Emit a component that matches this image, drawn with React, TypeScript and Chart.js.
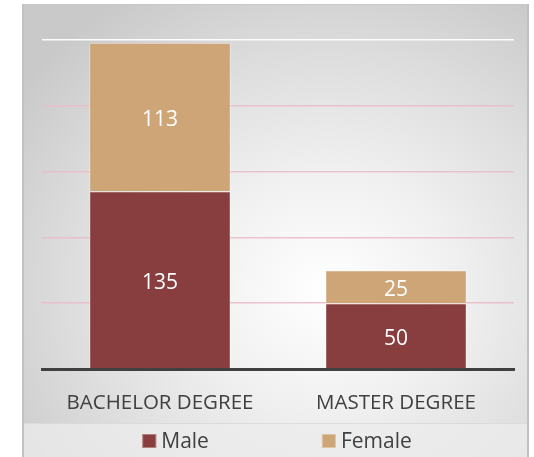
import React, { useEffect, useRef } from "react";
import { Chart, registerables } from "chart.js";

Chart.register(...registerables);

const categories = ["BACHELOR DEGREE", "MASTER DEGREE"];
const seriesNames = ["Male", "Female"];
const maleValues = [135, 50];
const femaleValues = [113, 25];
const yTicks = [0, 50, 100, 150, 200, 250];

const MALE_COLOR = "#883e3e";
const FEMALE_COLOR = "#cda576";
const FONT = "'Open Sans', 'Noto Sans', sans-serif";

const valueLabels = {
  id: "valueLabels",
  afterDatasetsDraw(chart: any) {
    const ctx = chart.ctx;
    ctx.save();
    ctx.fillStyle = "#ffffff";
    ctx.font = `21px ${FONT}`;
    ctx.textAlign = "center";
    ctx.textBaseline = "middle";
    chart.data.datasets.forEach((ds: any, di: number) => {
      const meta = chart.getDatasetMeta(di);
      meta.data.forEach((el: any, i: number) => {
        const v = ds.data[i];
        const y = (el.y + el.base) / 2;
        ctx.fillText(String(v), el.x, y + 3);
      });
    });
    ctx.restore();
  },
};

const customLegend = {
  id: "customLegend",
  afterDraw(chart: any) {
    const ctx = chart.ctx;
    ctx.save();
    ctx.font = `21px ${FONT}`;
    ctx.textBaseline = "middle";
    const box = 14;
    const gapText = 5;
    const gapItems = 113;
    const items = chart.data.datasets.map((ds: any) => ({
      label: ds.label,
      color: ds.backgroundColor,
      w: box + gapText + ctx.measureText(ds.label).width,
    }));
    const total =
      items.reduce((s: number, it: any) => s + it.w, 0) + gapItems * (items.length - 1);
    const area = chart.chartArea;
    let x = (area.left + area.right) / 2 - total / 2 - 1;
    const y = 441;
    items.forEach((it: any) => {
      ctx.fillStyle = it.color;
      ctx.fillRect(x, y - box / 2, box, box);
      ctx.strokeStyle = "rgba(255,255,255,0.35)";
      ctx.lineWidth = 1;
      ctx.strokeRect(x + 0.5, y - box / 2 + 0.5, box - 1, box - 1);
      ctx.fillStyle = "#404040";
      ctx.fillText(it.label, x + box + gapText, y + 1);
      x += it.w + gapItems;
    });
    ctx.restore();
  },
};

export default function App() {
  const canvasRef = useRef<HTMLCanvasElement | null>(null);

  useEffect(() => {
    if (!canvasRef.current) return;
    const chart = new Chart(canvasRef.current, {
      type: "bar",
      data: {
        labels: categories,
        datasets: [
          {
            label: seriesNames[0],
            data: maleValues,
            backgroundColor: MALE_COLOR,
            borderColor: "rgba(255,255,255,0.35)",
            borderWidth: 1,
            barPercentage: 0.6,
            categoryPercentage: 1,
          },
          {
            label: seriesNames[1],
            data: femaleValues,
            backgroundColor: FEMALE_COLOR,
            borderColor: "rgba(255,255,255,0.4)",
            borderWidth: 1,
            barPercentage: 0.6,
            categoryPercentage: 1,
          },
        ],
      },
      options: {
        responsive: false,
        animation: false,
        layout: { padding: { left: 42, right: 20, top: 40, bottom: 34 } },
        plugins: {
          legend: { display: false },
          tooltip: { enabled: false },
        },
        scales: {
          x: {
            stacked: true,
            grid: { display: false, drawTicks: false },
            border: { display: true, color: "#404040", width: 3 },
            ticks: {
              color: "#404040",
              font: { family: FONT, size: 20.5 },
              padding: 22,
            },
            afterFit(scale: any) {
              scale.height = 54;
            },
          },
          y: {
            stacked: true,
            min: yTicks[0],
            max: yTicks[yTicks.length - 1],
            afterBuildTicks(scale: any) {
              scale.ticks = yTicks.map((v) => ({ value: v }));
            },
            ticks: { display: false },
            border: { display: false },
            grid: {
              drawTicks: false,
              lineWidth: 1.5,
              color: (c: any) => {
                const v = c.tick ? c.tick.value : 0;
                if (v === yTicks[yTicks.length - 1]) return "rgba(255,255,255,0.95)";
                if (v === 0) return "rgba(0,0,0,0)";
                return "rgba(232,188,200,0.9)";
              },
            },
            afterFit(scale: any) {
              scale.width = 0;
            },
          },
        },
      },
      plugins: [valueLabels, customLegend],
    });
    return () => chart.destroy();
  }, []);

  return (
    <div
      style={{
        position: "fixed",
        left: 0,
        top: 0,
        width: 534,
        height: 457,
        background: "#ffffff",
        overflow: "hidden",
      }}
    >
      <div
        style={{
          position: "absolute",
          left: 22,
          top: 4,
          width: 507,
          height: 460,
          boxSizing: "border-box",
          borderLeft: "2px solid #c2c2c2",
          borderTop: "1px solid #c8c8c8",
          borderRight: "2px solid #c0c0c0",
          background:
            "radial-gradient(ellipse 75% 75% at 60% 62%, #ffffff 0%, #f0f0f0 35%, #dcdcdc 70%, #c9c9c9 100%)",
        }}
      />
      <div
        style={{
          position: "absolute",
          left: 24,
          top: 423,
          width: 503,
          height: 40,
          background: "rgba(236,236,236,0.75)",
          borderTop: "1px solid rgba(215,215,215,0.8)",
        }}
      />
      <canvas
        ref={canvasRef}
        width={534}
        height={457}
        style={{ position: "absolute", left: 0, top: 0, width: 534, height: 457 }}
      />
    </div>
  );
}
